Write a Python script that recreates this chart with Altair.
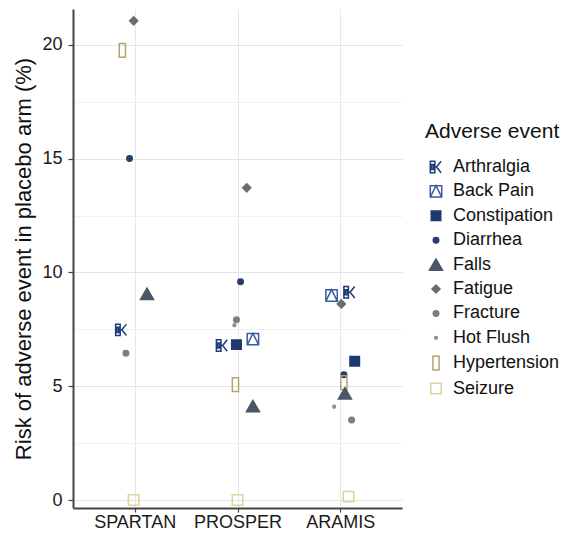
import altair as alt
import pandas as pd

# ---- data ----
trials = ["SPARTAN", "PROSPER", "ARAMIS"]
events = ["Arthralgia", "Back Pain", "Constipation", "Diarrhea", "Falls",
          "Fatigue", "Fracture", "Hot Flush", "Hypertension", "Seizure"]

trial = (["SPARTAN"] * 7) + (["PROSPER"] * 10) + (["ARAMIS"] * 10)
event = [
    "Fatigue", "Hypertension", "Diarrhea", "Falls", "Arthralgia", "Fracture", "Seizure",
    "Fatigue", "Diarrhea", "Fracture", "Hot Flush", "Arthralgia", "Constipation",
    "Back Pain", "Hypertension", "Falls", "Seizure",
    "Back Pain", "Arthralgia", "Fatigue", "Constipation", "Diarrhea", "Hypertension",
    "Falls", "Hot Flush", "Fracture", "Seizure",
]
risk = [
    21.06, 19.76, 15.01, 9.06, 7.48, 6.45, 0.0,
    13.72, 9.59, 7.92, 7.68, 6.79, 6.83, 7.07, 5.07, 4.13, 0.0,
    8.99, 9.13, 8.62, 6.10, 5.51, 5.16, 4.69, 4.10, 3.52, 0.15,
]
jitter = [
    -0.01, -0.12, -0.05, 0.12, -0.13, -0.085, -0.01,
    0.09, 0.03, -0.01, -0.03, -0.15, -0.01, 0.15, -0.02, 0.15, 0.0,
    -0.085, 0.09, 0.01, 0.14, 0.035, 0.035, 0.045, -0.06, 0.11, 0.08,
]

# ---- styles ----
colors = ["#1F3B7A", "#3A5BA0", "#1E3970", "#283C6E", "#4D5568",
          "#6C6C6E", "#817F72", "#99927A", "#B5A56C", "#DDD39C"]
fills = ["transparent", "transparent", "#1E3970", "#283C6E", "#4D5568",
         "#6C6C6E", "#817F72", "#99927A", "transparent", "transparent"]
shapes = [
    "M-1,-1H-0.2V1H-1Z M-0.75,-0.45H-0.45V0.45H-0.75Z M-0.2,0H0.1 M0.1,0L0.9,-1 M0.1,0L0.9,1",
    "M-1,-1H1V1H-1Z M-1,1L0,-1L1,1",
    "square",
    "circle",
    "triangle-up",
    "diamond",
    "circle",
    "circle",
    "M-0.45,-1H0.45V1H-0.45Z",
    "square",
]
sizes = [130, 130, 90, 30, 170, 65, 30, 8, 190, 110]

df = pd.DataFrame({"trial": trial, "event": event, "risk": risk, "jitter": jitter})
pos_map = {t: i + 1 for i, t in enumerate(trials)}
df["pos"] = df["trial"].map(pos_map) + df["jitter"]

label_expr = "[" + ",".join("'%s'" % t for t in trials) + "][datum.value - 1]"
font = "Liberation Sans"

legend = alt.Legend(
    orient="none", legendX=352, legendY=112, title="Adverse event",
    titleFontSize=21, titleFontWeight="normal", titleColor="#111111", titleFont=font,
    titlePadding=16, labelFontSize=18, labelFont=font, labelColor="#111111",
    rowPadding=6.4, labelOffset=8, symbolOffset=2, symbolStrokeWidth=1.5, padding=0,
)

chart = alt.Chart(df).mark_point(opacity=1, strokeWidth=1.5).encode(
    x=alt.X("pos:Q",
            scale=alt.Scale(domain=[0.4, 3.6], nice=False, zero=False),
            axis=alt.Axis(values=[1, 2, 3], labelExpr=label_expr, title=None,
                          grid=True, gridColor="#E6E6E6", gridWidth=1,
                          domainColor="#444444", domainWidth=2,
                          tickColor="#444444", tickSize=4, tickWidth=1.2,
                          labelFontSize=18, labelFont=font, labelColor="#1a1a1a",
                          labelPadding=1)),
    y=alt.Y("risk:Q",
            scale=alt.Scale(domain=[-0.35, 21.58], nice=False, zero=False),
            axis=alt.Axis(values=[0, 2.5, 5, 7.5, 10, 12.5, 15, 17.5, 20],
                          labelExpr="datum.value % 5 == 0 ? datum.label : ''",
                          title="Risk of adverse event in placebo arm (%)",
                          titleFontSize=22, titleFontWeight="normal", titleFont=font,
                          titleColor="#111111", titlePadding=6,
                          grid=True,
                          gridColor={"condition": {"test": "datum.value % 5 != 0", "value": "#F0F0F0"},
                                     "value": "#E4E4E4"},
                          gridWidth=1,
                          domainColor="#444444", domainWidth=2,
                          tickColor="#444444", tickSize=5, tickWidth=1.2,
                          tickOpacity={"condition": {"test": "datum.value % 5 != 0", "value": 0},
                                       "value": 1},
                          labelFontSize=18, labelFont=font, labelColor="#1a1a1a",
                          labelPadding=6)),
    shape=alt.Shape("event:N", scale=alt.Scale(type="ordinal", domain=events, range=shapes), legend=legend),
    stroke=alt.Stroke("event:N", scale=alt.Scale(type="ordinal", domain=events, range=colors), legend=legend),
    fill=alt.Fill("event:N", scale=alt.Scale(type="ordinal", domain=events, range=fills), legend=legend),
    size=alt.Size("event:N", scale=alt.Scale(type="ordinal", domain=events, range=sizes), legend=legend),
).properties(
    width=329, height=499,
    autosize=alt.AutoSizeParams(type="none"),
    padding={"left": 65, "top": 1, "right": 166, "bottom": 23},
).configure_view(stroke=None)

chart.save("out.html", embed_options={"renderer": "svg", "actions": False})
